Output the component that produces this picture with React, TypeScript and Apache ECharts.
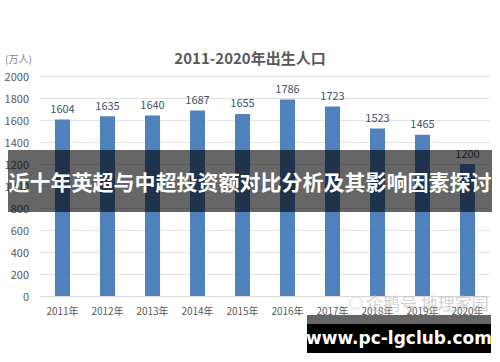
import React, { useEffect, useRef } from "react";
import * as echarts from "echarts";

const categories = ["2011年", "2012年", "2013年", "2014年", "2015年", "2016年", "2017年", "2018年", "2019年", "2020年"];
const births = [1604, 1635, 1640, 1687, 1655, 1786, 1723, 1523, 1465, 1200];
const yTicks = [0, 2000, 200];
const titleText = "2011-2020年出生人口";
const unitText = "(万人)";
const bannerText = "近十年英超与中超投资额对比分析及其影响因素探讨";
const siteText = "www.pc-lgclub.com";
const watermarkText = "企鹅号 地理家园";

export default function App() {
  const ref = useRef<HTMLDivElement>(null);
  useEffect(() => {
    if (!ref.current) return;
    const chart = echarts.init(ref.current, undefined, { renderer: "svg" });
    const font = "'Noto Sans CJK SC', 'Noto Sans', sans-serif";
    chart.setOption({
      animation: false,
      backgroundColor: "#ffffff",
      title: {
        text: titleText,
        left: "center",
        top: 45,
        textStyle: { fontSize: 15, fontWeight: "bold", color: "#595959", fontFamily: font },
      },
      grid: { left: 40, right: 10, top: 76, bottom: 66 },
      xAxis: {
        type: "category",
        data: categories,
        axisLine: { lineStyle: { color: "#d9d9d9" } },
        axisTick: { show: false },
        axisLabel: { color: "#595959", fontSize: 10, fontFamily: font, margin: 9, interval: 0 },
      },
      yAxis: {
        type: "value",
        min: yTicks[0],
        max: yTicks[1],
        interval: yTicks[2],
        axisLine: { show: false },
        axisTick: { show: false },
        splitLine: { lineStyle: { color: "#e3e3e3" } },
        axisLabel: {
          color: "#595959",
          fontSize: 11,
          fontFamily: font,
          margin: 11,
          formatter: (v: number) => String(v),
        },
      },
      series: [
        {
          type: "bar",
          data: births,
          barWidth: 15,
          itemStyle: { color: "#4f81bd" },
          label: {
            show: true,
            position: "top",
            distance: 6,
            color: "#44546a",
            fontSize: 11,
            fontFamily: font,
          },
        },
      ],
      graphic: [
        {
          type: "text",
          left: 5,
          top: 53,
          style: { text: unitText, fill: "#7f7f7f", fontSize: 10, fontFamily: font },
        },
        {
          type: "text",
          left: 366,
          top: 294,
          z: 90,
          style: { text: watermarkText, fill: "rgba(190,190,190,0.7)", fontSize: 17, fontFamily: font },
        },
        {
          type: "circle",
          z: 90,
          shape: { cx: 356, cy: 303, r: 6 },
          style: { fill: "none", stroke: "rgba(200,200,200,0.7)", lineWidth: 1 },
        },
        {
          type: "rect",
          z: 100,
          shape: { x: 8, y: 150, width: 484, height: 62 },
          style: { fill: "rgba(0,0,0,0.6)" },
        },
        {
          type: "text",
          z: 101,
          x: 250,
          y: 181,
          style: {
            text: bannerText,
            fill: "#ffffff",
            fontSize: 21,
            fontWeight: "bold",
            fontFamily: font,
            align: "center",
            verticalAlign: "middle",
          },
        },
        {
          type: "rect",
          z: 100,
          shape: { x: 307, y: 315, width: 184, height: 9 },
          style: { fill: "#666666" },
        },
        {
          type: "rect",
          z: 100,
          shape: { x: 307, y: 324, width: 184, height: 29 },
          style: { fill: "#000000" },
        },
        {
          type: "text",
          z: 101,
          x: 399,
          y: 338,
          style: {
            text: siteText,
            fill: "#ffffff",
            fontSize: 17,
            fontWeight: "bold",
            fontFamily: "'DejaVu Sans', sans-serif",
            align: "center",
            verticalAlign: "middle",
          },
        },
      ],
    });
    return () => chart.dispose();
  }, []);
  return <div ref={ref} style={{ width: 500, height: 362, position: "absolute", left: 0, top: 0 }} />;
}
